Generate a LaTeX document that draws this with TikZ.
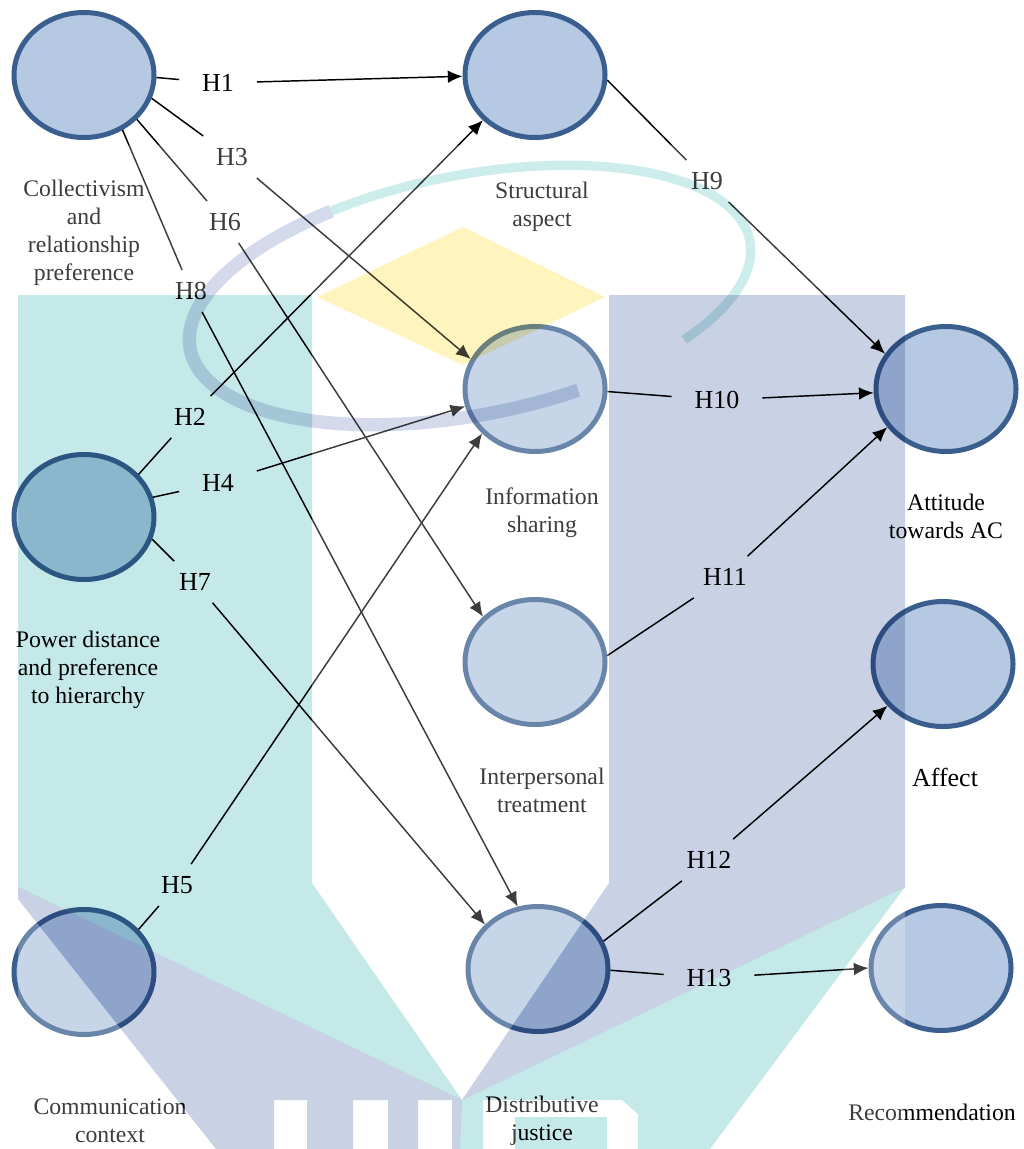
\documentclass[tikz,border=0pt]{standalone}
\usepackage{fontspec}
\setmainfont{Liberation Serif}
\usetikzlibrary{arrows.meta,shapes.geometric}

\definecolor{circfill}{RGB}{181,201,226}
\definecolor{circline}{RGB}{58,95,143}
\definecolor{wmteal}{RGB}{197,233,232}
\definecolor{wmlav}{RGB}{201,209,229}
\definecolor{wmyel}{RGB}{255,244,190}
\definecolor{swlav}{RGB}{206,212,234}
\definecolor{swteal}{RGB}{200,235,234}

\begin{document}
\begin{tikzpicture}[x=0.75pt,y=-0.75pt,
  latent/.style={ellipse, draw=circline, fill=circfill, line width=3.75pt,
    minimum width=105pt, minimum height=93.75pt, inner sep=0pt},
  hyp/.style={font=\fontsize{19.5}{22}\selectfont, inner xsep=17pt, inner ysep=9pt},
  lbl/.style={font=\fontsize{17.8}{21}\selectfont, align=center, inner sep=0pt},
  link/.style={line width=1.1pt, black},
  arr/.style={link, -{Latex[length=11pt,width=9.5pt]}},
]
\useasboundingbox (0,0) rectangle (1024,1149);

% latent constructs
\node[latent] (c1) at (84,75) {};
\node[latent] (c2) at (535,75) {};
\node[latent] (c3) at (535,389) {};
\node[latent] (c4) at (535,662) {};
\node[latent] (c5) at (538,969) {};
\node[latent] (c6) at (946,389) {};
\node[latent] (c7) at (943,664) {};
\node[latent] (c8) at (941,968) {};
\node[latent] (c9) at (84,517) {};
\node[latent] (c10) at (84,972) {};

% construct names
\node[lbl] (t1) at (84,233) {Collectivism\\and\\relationship\\preference};
\node[lbl] (t2) at (542,207) {Structural\\aspect};
\node[lbl] (t3) at (542,513) {Information\\sharing};
\node[lbl] (t4) at (542,790) {Interpersonal\\treatment};
\node[lbl] (t5) at (542,1121) {Distributive\\justice};
\node[lbl] (t6) at (946,516) {Attitude\\towards AC};
\node[lbl, font=\fontsize{19.5}{22}\selectfont] (t7) at (945,777) {Affect};
\node[lbl] (t8) at (932,1112) {Recommendation};
\node[lbl] (t9) at (88,670) {Power distance\\and preference\\to hierarchy};
\node[lbl] (t10) at (110,1121) {Communication\\context};

% hypothesis labels
\node[hyp] (h1) at (218,83) {H1};
\node[hyp] (h3) at (232,157) {H3};
\node[hyp] (h6) at (225,222) {H6};
\node[hyp] (h8) at (191,291) {H8};
\node[hyp] (h2) at (190,417) {H2};
\node[hyp] (h4) at (218,483) {H4};
\node[hyp] (h7) at (195,582) {H7};
\node[hyp] (h5) at (177,885) {H5};
\node[hyp] (h9) at (707,181) {H9};
\node[hyp] (h10) at (717,400) {H10};
\node[hyp] (h11) at (725,577) {H11};
\node[hyp] (h12) at (709,860) {H12};
\node[hyp] (h13) at (709,978) {H13};

% hypothesised paths
\draw[link] (c1.358) -- (h1);  \draw[arr] (h1) -- (c2.181);
\draw[link] (c1.341) -- (h3);  \draw[arr] (h3) -- (c3.155);
\draw[link] (c1.320) -- (h6);  \draw[arr] (h6) -- (c4.139);
\draw[link] (c1.305) -- (h8);  \draw[arr] (h8) -- (c5.108);
\draw[link] (c9.38) -- (h2);   \draw[arr] (h2) -- (c2.221);
\draw[link] (c9.16) -- (h4);   \draw[arr] (h4) -- (c3.194);
\draw[link] (c9.342) -- (h7);  \draw[arr] (h7) -- (c5.140);
\draw[link] (c10.38) -- (h5);  \draw[arr] (h5) -- (c3.220);
\draw[link] (c2.356) -- (h9);  \draw[arr] (h9) -- (c6.150);
\draw[link] (c3.358) -- (h10); \draw[arr] (h10) -- (c6.183);
\draw[link] (c4.5) -- (h11);   \draw[arr] (h11) -- (c6.213);
\draw[link] (c5.23) -- (h12);  \draw[arr] (h12) -- (c7.217);
\draw[link] (c5.359) -- (h13); \draw[arr] (h13) -- (c8.180);

% background logo, laid over the diagram
\fill[white, fill opacity=0.24, even odd rule]
  (18,145) rectangle (905,1149)
  (18,295) -- (312,295) -- (312,883) -- (462,1100) -- (18,887) -- cycle
  (18,887) -- (462,1100) -- (460,1149) -- (216,1149) -- (18,899) -- cycle
  (609,295) -- (905,295) -- (905,887) -- (462,1100) -- (609,883) -- cycle
  (905,887) -- (710,1149) -- (460,1149) -- (462,1100) -- cycle
  (274,1100) rectangle (307,1149)
  (353,1100) rectangle (388,1149)
  (418,1100) rectangle (452,1149)
  (483,1149) -- (483,1100) -- (622,1100) -- (638,1114) -- (638,1149) -- (607,1149)
    -- (607,1117) -- (515,1117) -- (515,1149) -- cycle;
\begin{scope}[blend mode=multiply]
  \fill[wmteal] (18,295) -- (312,295) -- (312,883) -- (462,1100) -- (18,887) -- cycle;
  \fill[wmlav, even odd rule]
    (18,887) -- (462,1100) -- (460,1149) -- (216,1149) -- (18,899) -- cycle
    (274,1100) rectangle (307,1149)
    (353,1100) rectangle (388,1149)
    (418,1100) rectangle (452,1149);
  \fill[wmlav] (609,295) -- (905,295) -- (905,887) -- (462,1100) -- (609,883) -- cycle;
  \fill[wmteal, even odd rule]
    (905,887) -- (710,1149) -- (460,1149) -- (462,1100) -- cycle
    (483,1149) -- (483,1100) -- (622,1100) -- (638,1114) -- (638,1149) -- (607,1149)
    -- (607,1117) -- (515,1117) -- (515,1149) -- cycle;
  \fill[wmyel] (463,227) -- (605,297) -- (463,365) -- (317,297) -- cycle;
  \draw[swlav, line width=10pt, draw opacity=0.85] plot[domain=72:245, samples=70, smooth]
    ({470+285*cos(\x)*0.9816+120*sin(\x)*0.1908}, {295-285*cos(\x)*0.1908+120*sin(\x)*0.9816});
  \draw[swteal, line width=7pt, draw opacity=0.9] plot[domain=245:405, samples=70, smooth]
    ({470+285*cos(\x)*0.9816+120*sin(\x)*0.1908}, {295-285*cos(\x)*0.1908+120*sin(\x)*0.9816});
\end{scope}
\end{tikzpicture}
\end{document}
